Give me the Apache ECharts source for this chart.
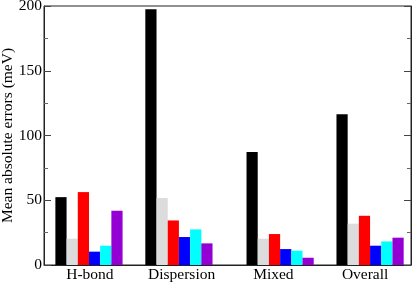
<!DOCTYPE html>
<html>
<head>
<meta charset="utf-8">
<script src="https://cdn.jsdelivr.net/npm/echarts@6/dist/echarts.min.js"></script>
<style>
html,body{margin:0;padding:0;background:#fff;}
#chart{width:415px;height:283px;}
</style>
</head>
<body>
<div id="chart"></div>
<script>
// Data
const categories = ['H-bond', 'Dispersion', 'Mixed', 'Overall'];
const groupX = [0.5, 1.5, 2.625, 3.625]; // x values of the groups in axis units
const seriesNames = ['Method 1', 'Method 2', 'Method 3', 'Method 4', 'Method 5', 'Method 6'];
const s1 = [52.4, 197.5, 87.2, 116.5];
const s2 = [20.3, 51.7, 20.3, 31.9];
const s3 = [56.3, 34.4, 23.9, 38.0];
const s4 = [10.3, 21.6, 12.3, 14.9];
const s5 = [14.9, 27.5, 11.0, 18.2];
const s6 = [41.9, 16.7, 5.6, 21.1];
const yTicks = [0, 50, 100, 150, 200];
const yTitle = 'Mean absolute errors (meV)';

const allSeries = [s1, s2, s3, s4, s5, s6];
const colors = ['#000000', '#dcdcdc', '#ff0000', '#0000ff', '#00ffff', '#9400d3'];
const font = 'Liberation Serif, Times New Roman, serif';

const chart = echarts.init(document.getElementById('chart'), null, {renderer: 'canvas'});
chart.setOption({
  animation: false,
  backgroundColor: '#fff',
  grid: {left: 44, right: 4, top: 6, bottom: 18, outerBoundsMode: 'none', containLabel: false,
         show: true, borderColor: '#222', borderWidth: 1},
  xAxis: [
    {type: 'value', min: 0, max: 4.08, show: false},
    {type: 'category', data: categories, position: 'bottom', boundaryGap: true,
     axisLine: {show: true, lineStyle: {color: '#222', width: 1}},
     axisTick: {show: false},
     axisLabel: {color: '#000', fontFamily: font, fontSize: 15.5, margin: 2},
     splitLine: {show: false}}
  ],
  yAxis: [
    {type: 'value', min: yTicks[0], max: yTicks[yTicks.length - 1], interval: 50,
     name: yTitle, nameLocation: 'middle', nameGap: 28, nameMoveOverlap: false,
     nameTextStyle: {color: '#000', fontFamily: font, fontSize: 15.5},
     axisLine: {show: true, lineStyle: {color: '#222', width: 1}},
     axisTick: {show: true, inside: true, length: 7, lineStyle: {color: '#444'}},
     minorTick: {show: true, splitNumber: 2, length: 4, lineStyle: {color: '#666'}},
     axisLabel: {color: '#000', fontFamily: font, fontSize: 15.5, margin: 2},
     splitLine: {show: false}},
    {type: 'value', min: yTicks[0], max: yTicks[yTicks.length - 1], interval: 50, position: 'right',
     axisLine: {show: true, lineStyle: {color: '#222', width: 1}},
     axisTick: {show: true, inside: true, length: 7, lineStyle: {color: '#444'}},
     minorTick: {show: true, splitNumber: 2, length: 4, lineStyle: {color: '#666'}},
     axisLabel: {show: false},
     splitLine: {show: false}}
  ],
  series: allSeries.map((vals, k) => ({
    type: 'bar',
    name: seriesNames[k],
    xAxisIndex: 0,
    yAxisIndex: 0,
    barWidth: 11.2,
    barGap: '0%',
    itemStyle: {color: colors[k]},
    data: vals.map((v, i) => [groupX[i], v])
  }))
});
</script>
</body>
</html>
